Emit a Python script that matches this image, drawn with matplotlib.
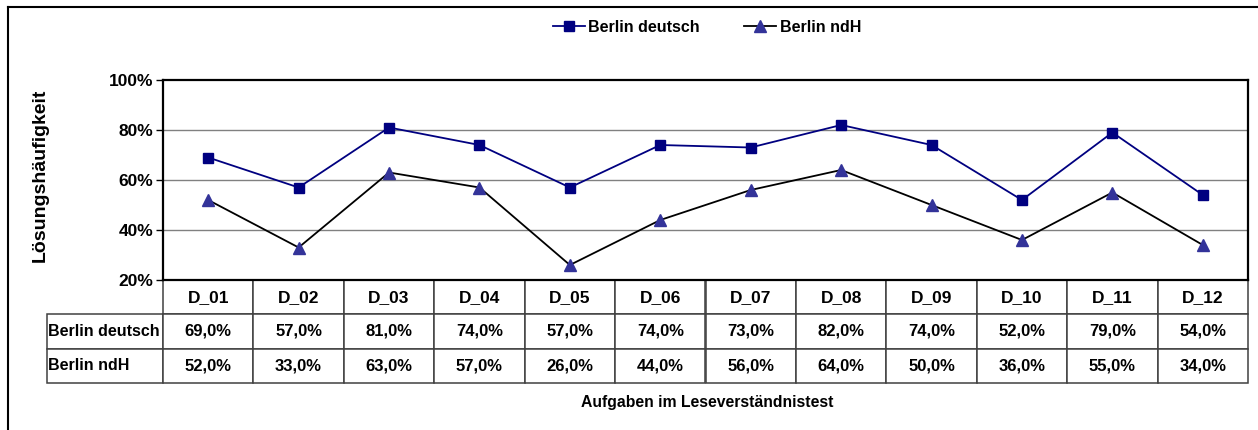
import matplotlib
matplotlib.use("Agg")
import matplotlib.pyplot as plt
from matplotlib.lines import Line2D
from matplotlib.ticker import PercentFormatter

# ==========================================================
# Daten
# ==========================================================

aufgaben = ["D_01", "D_02", "D_03", "D_04", "D_05", "D_06",
            "D_07", "D_08", "D_09", "D_10", "D_11", "D_12"]

berlin_deutsch = [69, 57, 81, 74, 57, 74, 73, 82, 74, 52, 79, 54]
berlin_ndh = [52, 33, 63, 57, 26, 44, 56, 64, 50, 36, 55, 34]

serien_namen = ["Berlin deutsch", "Berlin ndH"]
y_ticks = [20, 40, 60, 80, 100]

plt.rcParams["font.family"] = ["Liberation Sans", "DejaVu Sans"]
plt.rcParams["font.weight"] = "bold"

W, H = 1258, 430
fig = plt.figure(figsize=(W / 100, H / 100), dpi=100)

# Plotbereich (Pixel aus der Vorlage)
left, right, top, bottom = 163, 1248, 80, 280
ax = fig.add_axes([left / W, 1 - bottom / H, (right - left) / W, (bottom - top) / H])

x = list(range(len(aufgaben)))

ax.plot(x, berlin_deutsch, color="#000080", lw=1.3, marker="s",
        markersize=7, markerfacecolor="#000080", markeredgecolor="#000080",
        label=serien_namen[0], zorder=3)
ax.plot(x, berlin_ndh, color="black", lw=1.3, marker="^",
        markersize=8, markerfacecolor="#333399", markeredgecolor="#333399",
        label=serien_namen[1], zorder=3)

ax.set_xlim(-0.5, len(aufgaben) - 0.5)
ax.set_ylim(20, 100)
ax.set_yticks(y_ticks)
ax.yaxis.set_major_formatter(PercentFormatter(decimals=0))
ax.tick_params(axis="y", labelsize=12.5, length=5, width=1, direction="out", pad=2)
ax.set_xticks([])

for y in y_ticks[1:-1]:
    ax.axhline(y, color="#808080", lw=1, zorder=1)

for s in ax.spines.values():
    s.set_linewidth(1.6)

# ==========================================================
# Datentabelle (Zeilenbeschriftung als erste Spalte)
# ==========================================================

n = len(aufgaben)
col_w = 1 / n
label_w = (left - 47) / (right - left)
tab_h = (383 - bottom) / (bottom - top)

zellen = [[serien_namen[0]] + [f"{v:.1f}%".replace(".", ",") for v in berlin_deutsch],
          [serien_namen[1]] + [f"{v:.1f}%".replace(".", ",") for v in berlin_ndh]]

tab = ax.table(cellText=zellen, colLabels=[""] + aufgaben,
               colWidths=[label_w] + [col_w] * n, cellLoc="center",
               bbox=[-label_w, -tab_h, 1 + label_w, tab_h])
tab.auto_set_font_size(False)
tab.set_fontsize(12)
for (r, c), cell in tab.get_celld().items():
    cell.set_linewidth(1.1)
    cell.set_edgecolor("#404040")
    cell.get_text().set_fontweight("bold")
    if r == 0:
        cell.get_text().set_fontsize(12.5)
    if c == 0:
        if r == 0:
            cell.set_visible(False)
        else:
            cell.get_text().set_ha("left")
            cell.PAD = 0.01
            cell.get_text().set_fontsize(11.5)

# ==========================================================
# Beschriftungen, Legende, Rahmen
# ==========================================================

fig.text(40 / W, 1 - 175 / H, "Lösungshäufigkeit", rotation=90,
         ha="center", va="center", fontsize=14, fontweight="bold")
fig.text(707 / W, 1 - 403 / H, "Aufgaben im Leseverständnistest",
         ha="center", va="center", fontsize=11.3, fontweight="bold")

fig.legend(loc="center", bbox_to_anchor=(707 / W, 1 - 27 / H), ncol=2,
           frameon=False, fontsize=11.5, handlelength=2.0, handletextpad=0.2,
           columnspacing=2.8, markerscale=1.0)

fig.add_artist(Line2D([8 / W, 1], [1 - 7 / H, 1 - 7 / H], color="black", lw=1.5))
fig.add_artist(Line2D([8 / W, 8 / W], [0, 1 - 7 / H], color="black", lw=1.5))

fig.savefig("out.png", dpi=100)
